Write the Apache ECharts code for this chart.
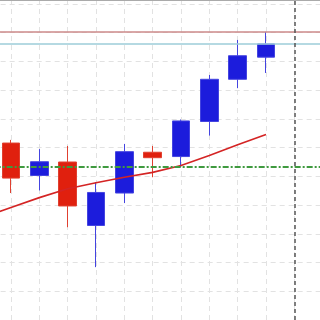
<!DOCTYPE html>
<html>
<head>
<meta charset="utf-8">
<script src="https://cdn.jsdelivr.net/npm/echarts@6/dist/echarts.min.js"></script>
<style>html,body{margin:0;padding:0;background:#fff}#c{width:320px;height:320px}</style>
</head>
<body>
<div id="c"></div>
<script>
const categories = ['0','1','2','3','4','5','6','7','8','9','10','11','12'];
const opens  = [null, 25.16, 24.03, 24.50, 22.29, 23.42, 24.84, 24.69, 25.91, 27.38, 28.15, null, null];
const closes = [null, 23.94, 24.51, 22.97, 23.44, 24.86, 24.65, 25.93, 27.38, 28.20, 28.61, null, null];
const lows   = [null, 23.42, 23.51, 22.23, 20.84, 23.07, 23.97, 24.32, 25.42, 27.07, 27.60, null, null];
const highs  = [null, 25.27, 24.95, 25.06, 23.80, 25.13, 25.06, 25.98, 27.53, 28.75, 29.03, null, null];
const maValues = [22.56, 22.92, 23.26, 23.57, 23.78, 23.97, 24.14, 24.38, 24.73, 25.10, 25.46, null, null];
const highLevel = 29.03;
const lastLevel = 28.62;
const greenLevel = 24.34;
const markerCategory = '11';
const yMin = 19, yMax = 30.14, yStep = 1;

const candleData = categories.map((c, i) => opens[i] == null ? ['-', '-', '-', '-'] : [opens[i], closes[i], lows[i], highs[i]]);
const maData = maValues.map(v => v == null ? '-' : v);

const chart = echarts.init(document.getElementById('c'), null, {renderer: 'canvas'});
chart.setOption({
  animation: false,
  backgroundColor: '#fff',
  grid: {left: -17.33, right: -2.67, top: 0, bottom: 0, containLabel: false, outerBoundsMode: 'none'},
  xAxis: {
    type: 'category', data: categories, boundaryGap: false, position: 'top',
    axisLine: {show: true, lineStyle: {color: '#aaa', width: 2}},
    axisTick: {show: false}, axisLabel: {show: false},
    splitLine: {show: true, interval: 0, lineStyle: {color: '#e2e2e2', type: [5, 4], width: 1}}
  },
  yAxis: {
    type: 'value', min: yMin, max: yMax, interval: yStep,
    axisLine: {show: false}, axisTick: {show: false}, axisLabel: {show: false},
    splitLine: {show: true, showMaxLine: false, lineStyle: {color: '#e2e2e2', type: [5, 4], width: 1}}
  },
  series: [
    {
      type: 'candlestick', data: candleData, barWidth: 18,
      itemStyle: {color: '#1c1cdc', color0: '#e0200e', borderColor: '#4444e0', borderColor0: '#e04030', borderWidth: 1},
      markLine: {
        silent: true, symbol: 'none', label: {show: false},
        data: [
          {yAxis: highLevel, lineStyle: {color: '#cc8a8a', width: 1.5, type: 'solid'}},
          {yAxis: lastLevel, lineStyle: {color: '#9cccd8', width: 1.5, type: 'solid'}},
          {yAxis: greenLevel, lineStyle: {color: '#3f9a3f', width: 2, type: [6, 2, 2, 2]}},
          {xAxis: markerCategory, lineStyle: {color: '#555', width: 1.5, type: [4, 3]}}
        ]
      }
    },
    {
      type: 'line', data: maData, showSymbol: false, symbol: 'none',
      lineStyle: {color: '#d42424', width: 1.6}, z: 3
    }
  ]
});
</script>
</body>
</html>
